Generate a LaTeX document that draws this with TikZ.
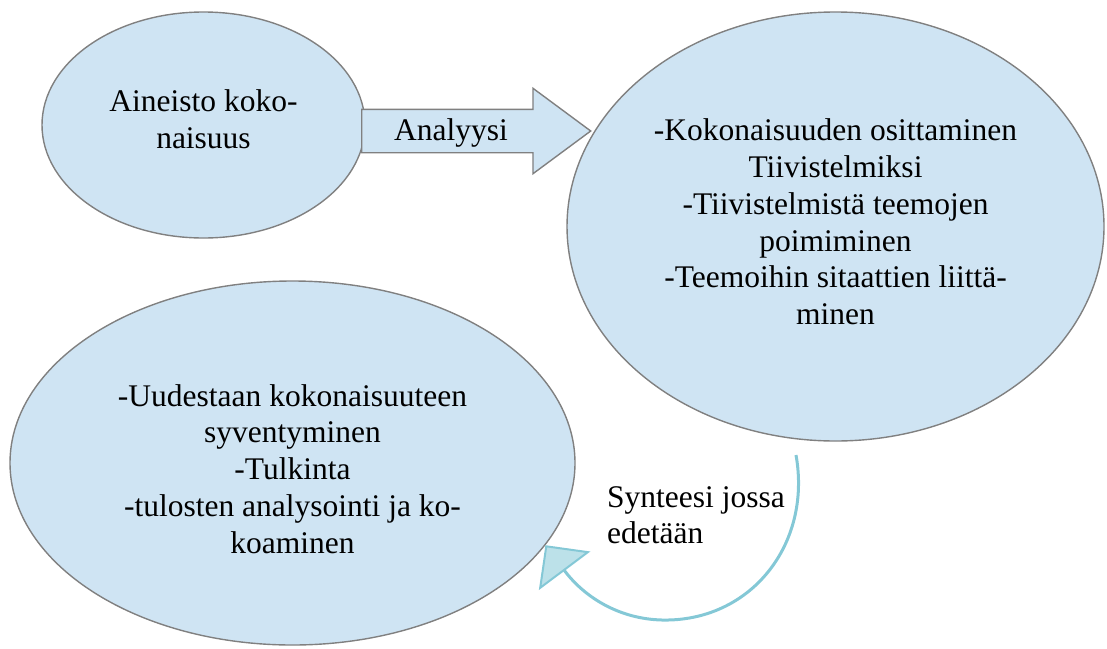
\documentclass[tikz,border=0pt]{standalone}
\usepackage{fontspec}
\setmainfont{Liberation Serif}
\usetikzlibrary{shapes.geometric,shapes.arrows,arrows.meta}
\definecolor{bubblue}{RGB}{207,228,243}
\definecolor{bordgray}{RGB}{128,128,128}
\definecolor{synteal}{RGB}{132,200,214}
\definecolor{tipfill}{RGB}{188,225,233}
\tikzset{
  bubble/.style = {ellipse, draw=bordgray, fill=bubblue, line width=1.4pt, inner sep=0pt},
  txtnode/.style = {align=center, inner sep=0pt, text=black, font=\fontsize{31.5pt}{36.8pt}\selectfont},
  blk_arrow/.style = {single arrow, draw=bordgray, fill=bubblue, line width=1.4pt,
    single arrow head extend=21pt, single arrow tip angle=73, single arrow head indent=0pt,
    minimum height=229pt, inner xsep=0pt, inner ysep=21pt, text height=0pt, text depth=0pt},
  syn_line/.style = {draw=synteal, line width=3pt,
    -{Triangle[length=32pt, width=64pt, fill=tipfill, line width=2pt]}},
}

\begin{document}
\begin{tikzpicture}[x=1pt, y=-1pt]
  \useasboundingbox (0,0) rectangle (1107,648);

  % first whole
  \node [bubble, minimum width=323pt, minimum height=226pt] (aineisto) at (203.5,125) {};
  \node [txtnode] (aineisto_t) at (203.5,119) {Aineisto koko-\\naisuus};

  % analysis arrow
  \node [blk_arrow, anchor=tail] (analyysi) at (361,131) {};
  \node [txtnode, anchor=base] (analyysi_t) at (451,140) {Analyysi};

  % splitting into summaries
  \node [bubble, minimum width=537pt, minimum height=429pt] (osittaminen) at (835.5,226.5) {};
  \node [txtnode] (osittaminen_t) at (835.5,222) {-Kokonaisuuden osittaminen\\Tiivistelmiksi\\-Tiivistelmistä teemojen\\poimiminen\\-Teemoihin sitaattien liittä-\\minen};

  % back to the whole
  \node [bubble, minimum width=565pt, minimum height=364pt] (uudestaan) at (292.5,463) {};
  \node [txtnode] (uudestaan_t) at (292.5,469) {-Uudestaan kokonaisuuteen\\syventyminen\\-Tulkinta\\-tulosten analysointi ja ko-\\koaminen};

  % synthesis
  \coordinate (synstart) at (796,455);
  \coordinate (synlow) at (662,620);
  \draw [syn_line] (synstart) .. controls (812,545) and (750,622) .. (synlow)
    .. controls (620,619) and (585,598) .. (uudestaan.-18);
  \node [txtnode, align=left, anchor=north west] (synteesi_t) at (607,486) {Synteesi jossa\\edetään};
\end{tikzpicture}
\end{document}
